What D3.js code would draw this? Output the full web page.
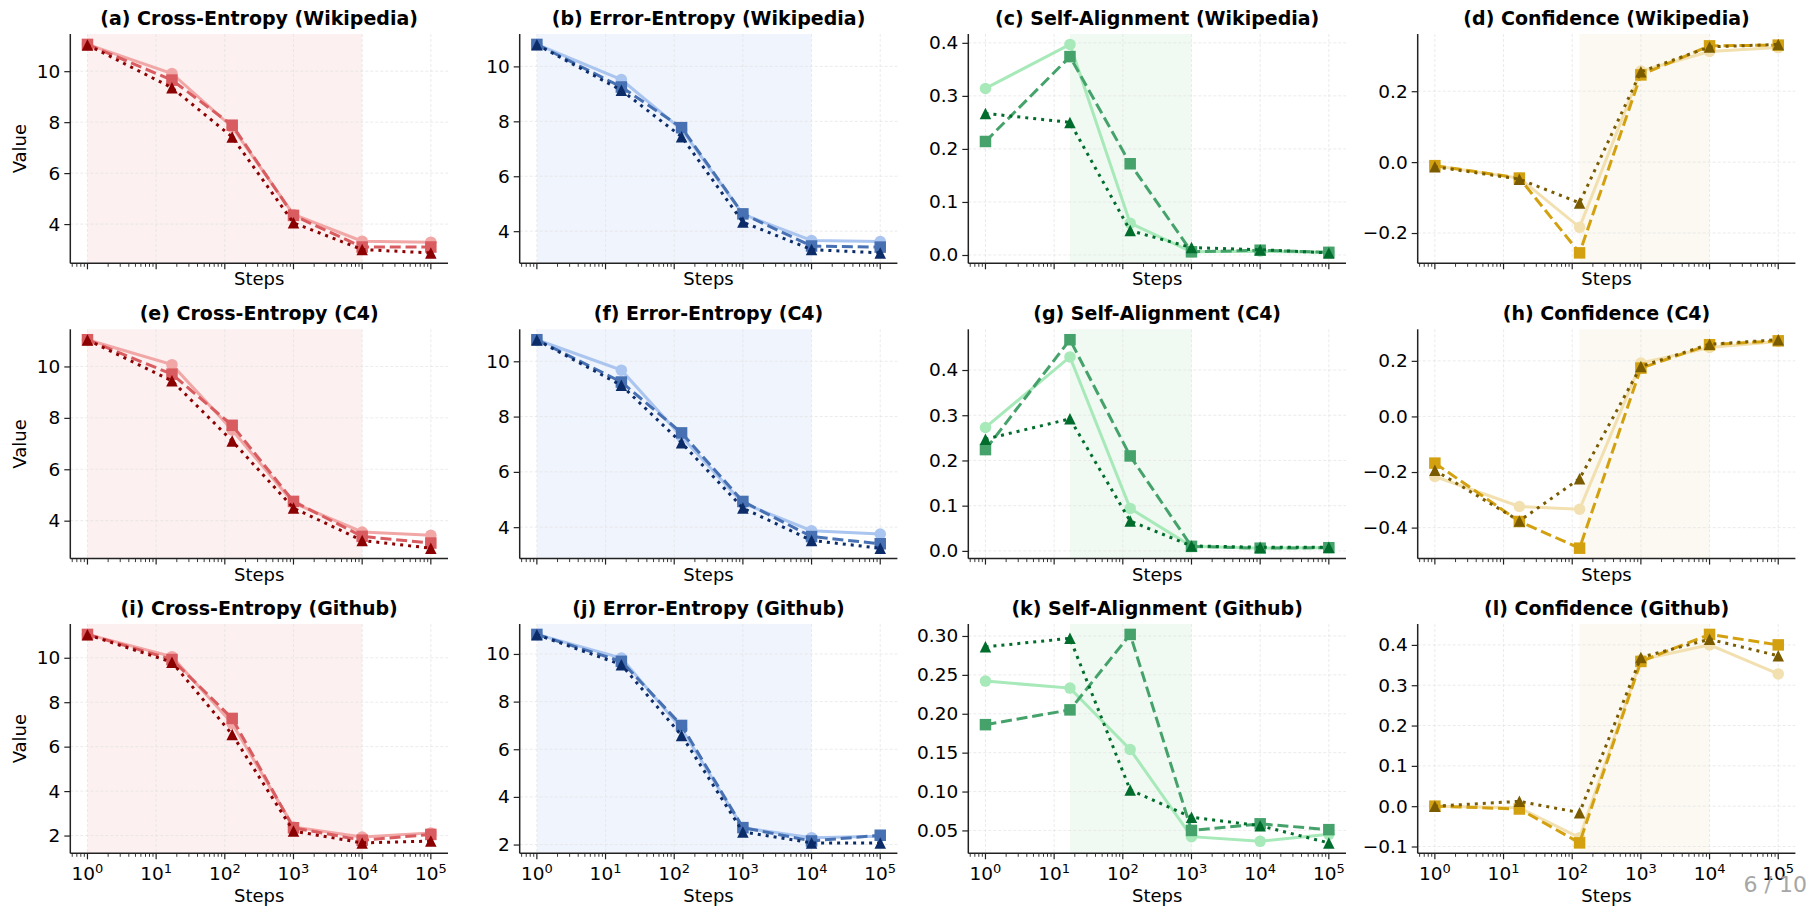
<!DOCTYPE html>
<html><head><meta charset="utf-8">
<script src="https://cdn.jsdelivr.net/npm/d3@7"></script>
<style>
body{margin:0;background:#fff}
svg{display:block}
text{font-family:"DejaVu Sans",sans-serif;fill:#000}
</style>
</head><body><svg id="c" width="1808" height="906"></svg>
<script>
// ---------- data ----------
const steps = [1, 17, 128, 1000, 10000, 100000];
const datasets = ["Wikipedia", "C4", "Github"];
const metrics = ["Cross-Entropy", "Error-Entropy", "Self-Alignment", "Confidence"];

// Cross-Entropy
const ceWiki1 = [11.05, 9.91, 7.80, 4.38, 3.33, 3.29];
const ceWiki2 = [11.05, 9.65, 7.88, 4.34, 3.10, 3.10];
const ceWiki3 = [11.03, 9.35, 7.42, 4.05, 3.00, 2.87];
const ceC41 = [11.04, 10.07, 7.53, 4.69, 3.56, 3.43];
const ceC42 = [11.04, 9.70, 7.71, 4.75, 3.39, 3.13];
const ceC43 = [11.03, 9.44, 7.10, 4.49, 3.23, 2.93];
const ceGit1 = [11.05, 10.05, 7.04, 2.39, 1.93, 2.12];
const ceGit2 = [11.05, 9.92, 7.27, 2.35, 1.79, 2.05];
const ceGit3 = [11.04, 9.80, 6.55, 2.20, 1.67, 1.75];
// Error-Entropy
const eeWiki1 = [10.80, 9.52, 7.70, 4.62, 3.66, 3.62];
const eeWiki2 = [10.80, 9.25, 7.77, 4.63, 3.46, 3.42];
const eeWiki3 = [10.79, 9.13, 7.44, 4.33, 3.33, 3.21];
const eeC41 = [10.78, 9.68, 7.27, 4.87, 3.87, 3.75];
const eeC42 = [10.78, 9.25, 7.41, 4.93, 3.66, 3.40];
const eeC43 = [10.77, 9.13, 7.05, 4.69, 3.52, 3.24];
const eeGit1 = [10.82, 9.83, 6.86, 2.70, 2.29, 2.35];
const eeGit2 = [10.82, 9.69, 7.00, 2.71, 2.15, 2.39];
const eeGit3 = [10.81, 9.55, 6.58, 2.53, 2.07, 2.07];
// Self-Alignment
const saWiki1 = [0.314, 0.397, 0.060, 0.006, 0.007, 0.005];
const saWiki2 = [0.214, 0.374, 0.172, 0.006, 0.009, 0.005];
const saWiki3 = [0.267, 0.250, 0.046, 0.014, 0.010, 0.004];
const saC41 = [0.273, 0.429, 0.094, 0.010, 0.006, 0.007];
const saC42 = [0.224, 0.467, 0.210, 0.010, 0.006, 0.007];
const saC43 = [0.247, 0.292, 0.066, 0.011, 0.008, 0.008];
const saGit1 = [0.242, 0.233, 0.154, 0.042, 0.036, 0.045];
const saGit2 = [0.186, 0.205, 0.302, 0.050, 0.0585, 0.051];
const saGit3 = [0.286, 0.297, 0.102, 0.067, 0.056, 0.034];
// Confidence
const cfWiki1 = [-0.010, -0.045, -0.184, 0.257, 0.312, 0.323];
const cfWiki2 = [-0.010, -0.045, -0.256, 0.246, 0.328, 0.330];
const cfWiki3 = [-0.013, -0.048, -0.115, 0.255, 0.325, 0.332];
const cfC41 = [-0.216, -0.324, -0.334, 0.192, 0.248, 0.270];
const cfC42 = [-0.168, -0.378, -0.474, 0.174, 0.258, 0.272];
const cfC43 = [-0.194, -0.376, -0.224, 0.180, 0.260, 0.276];
const cfGit1 = [0.000, -0.004, -0.078, 0.363, 0.400, 0.328];
const cfGit2 = [0.000, -0.007, -0.091, 0.359, 0.426, 0.400];
const cfGit3 = [0.000, 0.012, -0.016, 0.369, 0.414, 0.373];

// y tick labels
const ticksCE = [4, 6, 8, 10];
const ticksCEGit = [2, 4, 6, 8, 10];
const ticksSA = [0.0, 0.1, 0.2, 0.3, 0.4];
const ticksSAGit = [0.05, 0.10, 0.15, 0.20, 0.25, 0.30];
const ticksCfWiki = [-0.2, 0.0, 0.2];
const ticksCfC4 = [-0.4, -0.2, 0.0, 0.2];
const ticksCfGit = [-0.1, 0.0, 0.1, 0.2, 0.3, 0.4];
const xTicks = [1, 10, 100, 1000, 10000, 100000];

// highlighted step ranges per metric
const spanCE = [1, 10000];
const spanEE = [1, 10000];
const spanSA = [17, 1000];
const spanCF = [128, 10000];

// ---------- styles ----------
const palettes = [
  {c: ["#f2a7a7", "#d85c60", "#8b0000"], shade: "#fcf0f0"},
  {c: ["#aac5ef", "#4771b2", "#0b2c68"], shade: "#f0f4fc"},
  {c: ["#a8e9ba", "#45a26b", "#006d2c"], shade: "#f0faf2"},
  {c: ["#f2e0b0", "#d3a110", "#7a5b00"], shade: "#fbf9f1"}
];
const seriesStyle = [
  {marker: "circle", dash: null},
  {marker: "square", dash: "11,4.8"},
  {marker: "triangle", dash: "3,5"}
];

const panels = [
  [ceWiki1, ceWiki2, ceWiki3, ticksCE, 0, spanCE],
  [eeWiki1, eeWiki2, eeWiki3, ticksCE, 0, spanEE],
  [saWiki1, saWiki2, saWiki3, ticksSA, 1, spanSA],
  [cfWiki1, cfWiki2, cfWiki3, ticksCfWiki, 1, spanCF],
  [ceC41, ceC42, ceC43, ticksCE, 0, spanCE],
  [eeC41, eeC42, eeC43, ticksCE, 0, spanEE],
  [saC41, saC42, saC43, ticksSA, 1, spanSA],
  [cfC41, cfC42, cfC43, ticksCfC4, 1, spanCF],
  [ceGit1, ceGit2, ceGit3, ticksCEGit, 0, spanCE],
  [eeGit1, eeGit2, eeGit3, ticksCEGit, 0, spanEE],
  [saGit1, saGit2, saGit3, ticksSAGit, 2, spanSA],
  [cfGit1, cfGit2, cfGit3, ticksCfGit, 1, spanCF]
];
const letters = "abcdefghijkl";

// ---------- layout ----------
const colLeft = [70.3, 519.7, 968.3, 1417.7];
const rowTop = [34, 329.3, 624];
const W = 377.7, H = 229.3;

const svg = d3.select("#c");
const x = d3.scaleLog().domain([Math.pow(10, -0.25), Math.pow(10, 5.25)]).range([0, W]);
const minus = s => s.replace("-", "\u2212");

panels.forEach((p, i) => {
  const row = Math.floor(i / 4), col = i % 4;
  const [s1, s2, s3, ticks, dec, span] = p;
  const pal = palettes[col];
  const all = s1.concat(s2, s3);
  const lo = d3.min(all), hi = d3.max(all), pad = (hi - lo) * 0.05;
  const y = d3.scaleLinear().domain([lo - pad, hi + pad]).range([H, 0]);
  const g = svg.append("g").attr("transform", `translate(${colLeft[col]},${rowTop[row]})`);

  // shaded span
  g.append("rect").attr("x", x(span[0])).attr("y", 0)
    .attr("width", x(span[1]) - x(span[0])).attr("height", H)
    .attr("fill", pal.shade);

  // grid
  g.append("g").selectAll("line").data(xTicks).join("line")
    .attr("x1", d => x(d)).attr("x2", d => x(d)).attr("y1", 0).attr("y2", H)
    .attr("stroke", "#e2e2e2").attr("stroke-width", 0.7).attr("stroke-dasharray", "3,2");
  g.append("g").selectAll("line").data(ticks).join("line")
    .attr("x1", 0).attr("x2", W).attr("y1", d => y(d)).attr("y2", d => y(d))
    .attr("stroke", "#e2e2e2").attr("stroke-width", 0.7).attr("stroke-dasharray", "3,2");

  // series
  [s1, s2, s3].forEach((vals, k) => {
    const st = seriesStyle[k], color = pal.c[k];
    const pts = steps.map((s, j) => [x(s), y(vals[j])]);
    g.append("path").attr("d", d3.line()(pts)).attr("fill", "none")
      .attr("stroke", color).attr("stroke-width", 3)
      .attr("stroke-dasharray", st.dash);
    const ms = 11.5;
    pts.forEach(([px, py]) => {
      if (st.marker === "triangle") {
        g.append("path").attr("d", `M${px},${py - ms / 2}L${px + ms / 2},${py + ms / 2}L${px - ms / 2},${py + ms / 2}Z`)
          .attr("fill", color);
      } else if (st.marker === "square") {
        g.append("rect").attr("x", px - ms / 2).attr("y", py - ms / 2).attr("width", ms).attr("height", ms).attr("fill", color);
      } else {
        g.append("circle").attr("cx", px).attr("cy", py).attr("r", ms / 2).attr("fill", color);
      }
    });
  });

  // y axis
  const ya = d3.axisLeft(y).tickValues(ticks).tickSize(6).tickPadding(4)
    .tickFormat(d => minus(d.toFixed(dec)));
  const yg = g.append("g").call(ya);
  yg.select(".domain").remove();
  yg.selectAll(".tick line").attr("stroke", "#222").attr("stroke-width", 1.2);
  yg.selectAll("text").attr("font-size", 18.5).attr("fill", "#000").attr("font-family", "DejaVu Sans");
  g.append("line").attr("x1", 0).attr("x2", 0).attr("y1", 0).attr("y2", H).attr("stroke", "#222").attr("stroke-width", 1.5);

  // x axis
  const minor = [];
  for (let e = -1; e <= 5; e++) for (let m = 2; m <= 9; m++) {
    const v = m * Math.pow(10, e);
    if (v >= x.domain()[0] && v <= x.domain()[1]) minor.push(v);
  }
  const xg = g.append("g").attr("transform", `translate(0,${H})`);
  xg.selectAll(".minor").data(minor).join("line").attr("class", "minor")
    .attr("x1", d => x(d)).attr("x2", d => x(d)).attr("y1", 0).attr("y2", 3.5)
    .attr("stroke", "#222").attr("stroke-width", 0.9);
  xg.selectAll(".major").data(xTicks).join("line").attr("class", "major")
    .attr("x1", d => x(d)).attr("x2", d => x(d)).attr("y1", 0).attr("y2", 6)
    .attr("stroke", "#222").attr("stroke-width", 1.2);
  xg.append("line").attr("x1", 0).attr("x2", W).attr("stroke", "#222").attr("stroke-width", 1.5);
  if (row === 2) {
    const lab = xg.selectAll(".xl").data(xTicks).join("text").attr("class", "xl")
      .attr("x", d => x(d)).attr("y", 27).attr("text-anchor", "middle").attr("font-size", 18.5);
    lab.append("tspan").text("10");
    lab.append("tspan").attr("dy", -7).attr("font-size", 13).text(d => String(Math.round(Math.log10(d))));
    g.append("text").attr("x", W / 2).attr("y", H + 49).attr("text-anchor", "middle")
      .attr("font-size", 18).text("Steps");
  } else {
    g.append("text").attr("x", W / 2).attr("y", H + 22).attr("text-anchor", "middle")
      .attr("font-size", 18).text("Steps");
  }
  if (col === 0) {
    g.append("text").attr("transform", `translate(-44,${H / 2}) rotate(-90)`)
      .attr("text-anchor", "middle").attr("font-size", 18).text("Value");
  }
  // title
  g.append("text").attr("x", W / 2).attr("y", -9).attr("text-anchor", "middle")
    .attr("font-size", 19).attr("font-weight", "bold")
    .text(`(${letters[i]}) ${metrics[col]} (${datasets[row]})`);
});

svg.append("text").attr("x", 1807).attr("y", 892).attr("text-anchor", "end")
  .attr("font-size", 22).style("fill", "#a6a6a6").text("6 / 10");
</script></body></html>
